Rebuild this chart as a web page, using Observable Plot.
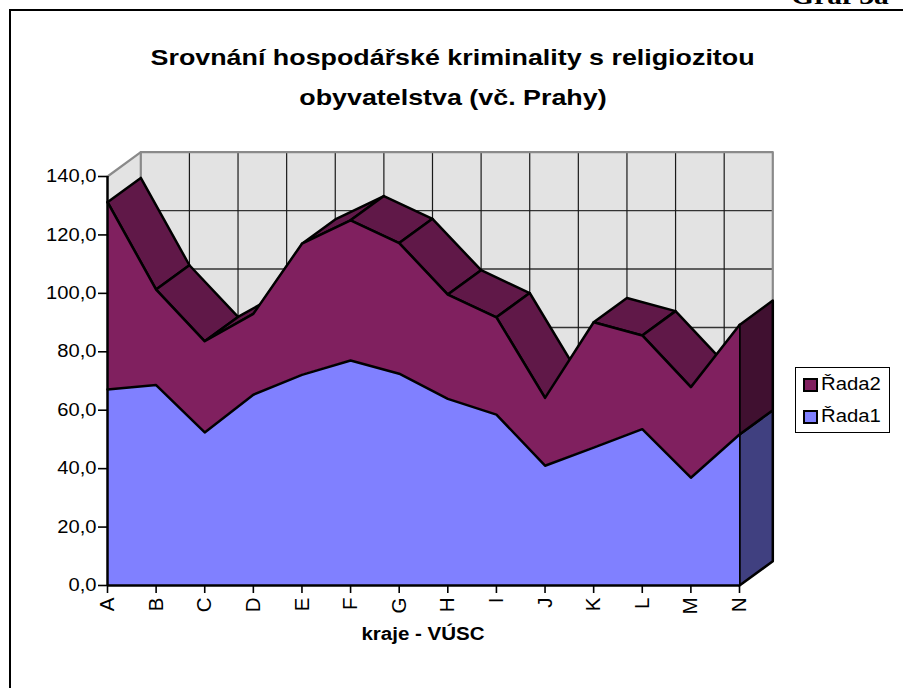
<!DOCTYPE html>
<html>
<head>
<meta charset="utf-8">
<script src="https://cdn.jsdelivr.net/npm/d3@7"></script>
<script src="https://cdn.jsdelivr.net/npm/@observablehq/plot@0.6"></script>
<style>
  html, body { margin: 0; padding: 0; background: #fff; }
  body { width: 903px; height: 688px; overflow: hidden; position: relative;
         font-family: "Liberation Sans", Arial, sans-serif; color: #000; }
  #chart { position: absolute; left: 0; top: 0; }
  .frame { position: absolute; left: 9px; top: 9px; width: 1000px; height: 1000px;
           border-left: 2px solid #000; border-top: 2px solid #000; }
  .txt { position: absolute; white-space: nowrap; line-height: 1; }
  .sx { display: inline-block; transform: scaleX(1.14); transform-origin: center; }
  .title { left: 103px; width: 700px; text-align: center; font-weight: bold; font-size: 22px; }
  .title .sx { transform: scaleX(1.22); }
  .legend { position: absolute; left: 795px; top: 367px; width: 95px; height: 66px;
            border: 1px solid #000; box-sizing: border-box; background: #fff; }
  .sw { position: absolute; width: 11px; height: 10px; border: 2px solid #000; }
  .lt { position: absolute; font-size: 17.5px; line-height: 1; white-space: nowrap; }
  .lt span { display: inline-block; transform: scaleX(1.16); transform-origin: left; }
</style>
</head>
<body>
<div class="frame"></div>
<div class="txt" style="right:14px; top:-17px; font-family:'Liberation Serif','Times New Roman',serif; font-weight:bold; font-size:26px;"><span class="sx" style="transform-origin:right">Graf 3a</span></div>
<div class="txt title" style="top:47px;"><span class="sx">Srovnání hospodářské kriminality s religiozitou</span></div>
<div class="txt title" style="top:87px;"><span class="sx">obyvatelstva (vč. Prahy)</span></div>
<div id="chart"></div>
<div class="txt" style="left:323px; width:200px; text-align:center; top:625px; font-weight:bold; font-size:18px;"><span class="sx">kraje - VÚSC</span></div>
<div class="legend">
  <div class="sw" style="left:7px; top:10px; background:#80205f;"></div>
  <div class="lt" style="left:25px; top:8px;"><span>Řada2</span></div>
  <div class="sw" style="left:7px; top:42px; background:#8080ff;"></div>
  <div class="lt" style="left:25px; top:40px;"><span>Řada1</span></div>
</div>
<script>
// ---- data ----
const categories = ["A","B","C","D","E","F","G","H","I","J","K","L","M","N"];
const rada1 = [67.1, 68.6, 52.4, 65.3, 72.1, 77.0, 72.5, 63.9, 58.5, 41.0, 47.2, 53.5, 36.9, 51.7];
const rada2 = [64.1, 32.7, 31.2, 27.7, 44.9, 48.0, 44.7, 35.7, 33.3, 23.2, 42.9, 32.1, 31.0, 37.5];
const yTicks = [0, 20, 40, 60, 80, 100, 120, 140];

// ---- 3D oblique depth (in data units of the x and y scales) ----
const DX = 0.685, DY = 8.32;
const n = categories.length, last = n - 1, yMax = yTicks[yTicks.length - 1];

const rows = categories.map((c, i) => ({i, c, r1: rada1[i], tot: rada1[i] + rada2[i]}));

// top faces of the upper series (only those facing the viewer)
const quads = [];
for (let i = 0; i < last; i++) {
  const a = rows[i].tot, b = rows[i + 1].tot;
  if (b - a < DY / DX) {
    quads.push({id: i, x: i, y: a}, {id: i, x: i + 1, y: b},
               {id: i, x: i + 1 + DX, y: b + DY}, {id: i, x: i + DX, y: a + DY});
  }
}
const endR1 = [{x: last, y: 0}, {x: last, y: rows[last].r1}, {x: last + DX, y: rows[last].r1 + DY}, {x: last + DX, y: DY}];
const endR2 = [{x: last, y: rows[last].r1}, {x: last, y: rows[last].tot}, {x: last + DX, y: rows[last].tot + DY}, {x: last + DX, y: rows[last].r1 + DY}];
const sideWall = [{x: 0, y: 0}, {x: 0, y: yMax}, {x: DX, y: yMax + DY}, {x: DX, y: DY}];
const wallEdge = [{x: 0, y: yMax}, {x: DX, y: yMax + DY}, {x: last + DX, y: yMax + DY}, {x: last + DX, y: DY}];
const wallLeft = [{x: DX, y: yMax + DY}, {x: DX, y: DY}];

const fmt = d => d.toFixed(1).replace(".", ",");
const SW = 2.5;

const plot = Plot.plot({
  width: 903, height: 688,
  marginLeft: 107, marginRight: 164, marginTop: 176, marginBottom: 103,
  style: {fontFamily: "'Liberation Sans', Arial, sans-serif", color: "#000", background: "transparent", overflow: "visible"},
  x: {type: "linear", domain: [0, last]},
  y: {domain: [0, yMax]},
  marks: [
    // walls
    Plot.line(sideWall, {x: "x", y: "y", fill: "#e3e3e3", stroke: "none", curve: "linear-closed"}),
    Plot.rect([0], {x1: DX, x2: last + DX, y1: DY, y2: yMax + DY, fill: "#e3e3e3"}),
    Plot.ruleY(yTicks.slice(1, -1), {y: d => d + DY, x1: DX, x2: last + DX, stroke: "#333", strokeWidth: 1.4}),
    Plot.ruleX(d3.range(1, last), {x: i => i + DX, y1: DY, y2: yMax + DY, stroke: "#1a1a1a", strokeWidth: 1.2}),
    Plot.line(wallEdge, {x: "x", y: "y", stroke: "#8a8a8a", strokeWidth: 2.2}),
    Plot.line(wallLeft, {x: "x", y: "y", stroke: "#8a8a8a", strokeWidth: 2.2}),
    // top faces
    Plot.line(quads, {x: "x", y: "y", z: "id", fill: "#601848", stroke: "#000", strokeWidth: SW, strokeLinejoin: "round", curve: "linear-closed"}),
    // end faces at N
    Plot.line(endR1, {x: "x", y: "y", fill: "#404080", stroke: "#000", strokeWidth: SW, strokeLinejoin: "round", curve: "linear-closed"}),
    Plot.line(endR2, {x: "x", y: "y", fill: "#401030", stroke: "#000", strokeWidth: SW, strokeLinejoin: "round", curve: "linear-closed"}),
    // front faces
    Plot.areaY(rows, {x: "i", y1: 0, y2: "r1", fill: "#8080ff"}),
    Plot.areaY(rows, {x: "i", y1: "r1", y2: "tot", fill: "#80205f"}),
    Plot.line(rows, {x: "i", y: "r1", stroke: "#000", strokeWidth: SW, strokeLinejoin: "round"}),
    Plot.line(rows, {x: "i", y: "tot", stroke: "#000", strokeWidth: SW, strokeLinejoin: "round"}),
    // axes
    Plot.ruleX([0], {y1: 0, y2: yMax, stroke: "#000", strokeWidth: SW}),
    Plot.ruleY([0], {x1: 0, x2: last, stroke: "#000", strokeWidth: SW}),
    Plot.axisY({ticks: yTicks, tickSize: 9, tickPadding: 2, tickFormat: fmt, fontSize: 17.5, strokeWidth: 1.6, label: null}),
    Plot.axisX({ticks: d3.range(n), tickFormat: i => categories[i], tickRotate: -90, tickSize: 8, tickPadding: 4, fontSize: 20.5, strokeWidth: 1.6, label: null})
  ]
});
document.getElementById("chart").appendChild(plot);

// Horizontal text in the reference is slightly wider than plain Arial: stretch y tick labels.
plot.querySelectorAll('g[aria-label="y-axis tick label"] text').forEach(t => {
  const len = t.getComputedTextLength();
  t.setAttribute("textLength", (len * 1.15).toFixed(1));
  t.setAttribute("lengthAdjust", "spacingAndGlyphs");
});
</script>
</body>
</html>
